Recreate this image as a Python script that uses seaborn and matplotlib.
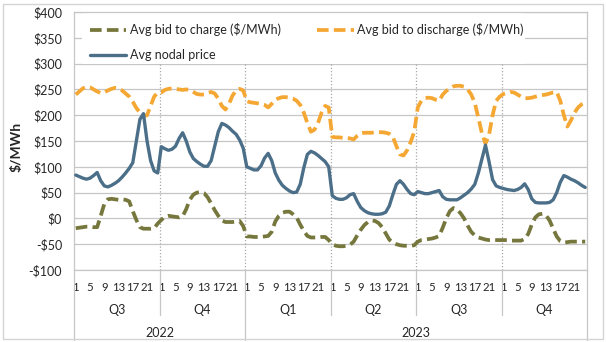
import numpy as np
import pandas as pd
import matplotlib
matplotlib.use("Agg")
import matplotlib.pyplot as plt
import seaborn as sns
from matplotlib.patches import Rectangle

# Category levels along the x axis
years = ["2022", "2022", "2023", "2023", "2023", "2023"]
quarters = ["Q3", "Q4", "Q1", "Q2", "Q3", "Q4"]
hours = list(range(1, 25))
hour_ticks = [1, 5, 9, 13, 17, 21]

# Average bid to charge ($/MWh), 24 hourly values per quarter
bid_charge = [
    -19, -18, -17, -16, -16, -17, -17, 5, 28, 37, 38, 37, 36, 37, 36, 33, 14, -3, -17, -20, -20, -20, -19, -10,
    -3, 3, 5, 4, 3, 2, 4, 18, 36, 46, 50, 51, 49, 41, 29, 16, 5, -4, -7, -7, -7, -6, -5, -15,
    -35, -35, -36, -36, -36, -35, -34, -26, -6, 5, 11, 13, 13, 8, 2, -12, -24, -34, -37, -37, -37, -36, -36, -42,
    -50, -53, -54, -54, -53, -51, -45, -33, -22, -13, -7, -4, -5, -9, -17, -29, -41, -47, -50, -52, -53, -53, -53, -52,
    -45, -42, -41, -40, -39, -37, -34, -18, 0, 14, 20, 17, 10, 0, -14, -26, -33, -37, -39, -41, -42, -42, -42, -42,
    -42, -42, -43, -43, -43, -43, -40, -30, -12, 2, 8, 9, 6, -4, -20, -35, -44, -47, -46, -45, -45, -45, -45, -45,
]

# Average bid to discharge ($/MWh)
bid_discharge = [
    240, 246, 252, 255, 254, 250, 246, 243, 244, 248, 251, 253, 252, 248, 242, 236, 226, 214, 205, 198, 200, 218, 236, 244,
    244, 249, 251, 252, 251, 250, 249, 250, 249, 245, 241, 240, 240, 243, 245, 242, 232, 218, 211, 222, 238, 248, 251, 248,
    227, 225, 224, 223, 222, 220, 215, 222, 230, 233, 235, 235, 234, 232, 228, 220, 205, 185, 168, 172, 185, 205, 218, 215,
    158, 157, 157, 156, 156, 155, 153, 160, 165, 166, 166, 166, 167, 167, 167, 166, 164, 158, 140, 124, 122, 132, 148, 168,
    215, 228, 233, 234, 233, 230, 228, 240, 247, 252, 256, 257, 257, 255, 250, 240, 224, 195, 165, 145, 162, 200, 228, 236,
    241, 243, 245, 244, 240, 236, 233, 233, 234, 236, 238, 239, 240, 242, 244, 245, 228, 200, 178, 190, 205, 215, 221, 224,
]

# Average nodal price ($/MWh)
nodal_price = [
    84, 81, 78, 76, 78, 83, 89, 73, 63, 61, 64, 68, 73, 80, 88, 97, 108, 150, 192, 203, 150, 112, 92, 88,
    139, 135, 132, 134, 140, 155, 166, 150, 129, 116, 110, 105, 101, 101, 112, 140, 168, 184, 181, 176, 169, 163, 152, 136,
    100, 97, 94, 94, 102, 117, 126, 112, 88, 74, 64, 58, 53, 50, 51, 66, 98, 124, 130, 127, 122, 116, 110, 100,
    44, 39, 37, 37, 40, 46, 48, 33, 21, 15, 11, 9, 8, 8, 9, 12, 24, 46, 66, 73, 66, 56, 48, 46,
    52, 50, 48, 48, 50, 52, 54, 42, 37, 36, 36, 36, 40, 45, 50, 57, 66, 88, 115, 142, 110, 75, 63, 60,
    58, 56, 55, 54, 56, 60, 67, 56, 38, 31, 30, 30, 30, 31, 36, 50, 70, 83, 80, 76, 73, 69, 64, 60,
]

series_labels = ["Avg bid to charge ($/MWh)", "Avg bid to discharge ($/MWh)", "Avg nodal price"]

OLIVE = "#76773C"
ORANGE = "#F5A733"
SLATE = "#4C6F89"
GRID = "#C6C6C6"
TEXT = "#262626"

n_h = len(hours)
df = pd.DataFrame({
    "pos": np.arange(len(quarters) * n_h),
    "year": np.repeat(years, n_h),
    "quarter": np.repeat(quarters, n_h),
    "hour": np.tile(hours, len(quarters)),
    "charge": bid_charge,
    "discharge": bid_discharge,
    "nodal": nodal_price,
})

sns.set_theme(style="white")
plt.rcParams["font.family"] = ["Lato", "DejaVu Sans"]
plt.rcParams["text.color"] = TEXT

W, H = 606, 342
fig = plt.figure(figsize=(W / 100, H / 100), dpi=100)
L, R, T, B = 74, 587, 12, 270
ax = fig.add_axes([L / W, (H - B) / H, (R - L) / W, (B - T) / H])

# Series
sns.lineplot(data=df, x="pos", y="charge", ax=ax, color=OLIVE, lw=2.7, label=series_labels[0], zorder=3)
sns.lineplot(data=df, x="pos", y="discharge", ax=ax, color=ORANGE, lw=2.7, label=series_labels[1], zorder=3)
sns.lineplot(data=df, x="pos", y="nodal", ax=ax, color=SLATE, lw=2.4, label=series_labels[2], zorder=4)
l_charge, l_dis, l_nodal = ax.lines[-3:]
for ln in (l_charge, l_dis):
    ln.set_dashes((3.1, 1.4))
    ln.set_solid_capstyle("butt")

ax.set_xlim(-0.5, len(df) - 0.5)
ax.set_ylim(-100, 400)

# Y axis
yt = list(range(-100, 401, 50))
ax.set_yticks(yt)
ax.set_yticklabels([f"${v}" if v >= 0 else f"-${-v}" for v in yt], fontsize=9, color=TEXT)
ax.yaxis.grid(True, color=GRID, lw=0.9)
ax.tick_params(axis="y", length=0, pad=8.5)
ax.set_ylabel("")
ax.set_xlabel("")
for s in ax.spines.values():
    s.set_color(GRID)
    s.set_linewidth(0.9)

# Quarter dividers inside the plot
for qi in range(1, len(quarters)):
    ax.axvline(qi * n_h - 0.5, color="#A8A8A8", lw=0.9, ls=(0, (1, 1.6)), zorder=1)

# Hour ticks
tick_df = df[df["hour"].isin(hour_ticks)]
ax.set_xticks(tick_df["pos"].tolist())
ax.set_xticklabels([str(h) for h in tick_df["hour"]], fontsize=8.2, color=TEXT)
ax.tick_params(axis="x", length=0, pad=8.5)

# Quarter and year labels with separators below the axis
xt = ax.get_xaxis_transform()
axh = B - T
for qi, q in enumerate(quarters):
    ax.text(qi * n_h + n_h / 2 - 0.5, -40 / axh, q, transform=xt, ha="center", va="center",
            fontsize=9, color=TEXT)
year_groups = df.groupby("year")["pos"].agg(["min", "max"])
for yr, (lo, hi) in year_groups.iterrows():
    ax.text((lo + hi) / 2, -63 / axh, yr, transform=xt, ha="center", va="center",
            fontsize=9, color=TEXT)
year_edges = {-0.5, len(df) - 0.5} | {lo - 0.5 for lo in year_groups["min"]}
for qi in range(len(quarters) + 1):
    xb = qi * n_h - 0.5
    depth = 70 if xb in year_edges else 45
    ax.plot([xb, xb], [0, -depth / axh], transform=xt, clip_on=False, color=GRID, lw=0.9)

# Legend on a white panel
ax.add_patch(Rectangle(((82 - L) / (R - L), (B - 64) / axh), 443 / (R - L), 51 / axh,
                       transform=ax.transAxes, facecolor="white", edgecolor="none", zorder=2))
leg = ax.legend(handles=[l_charge, l_nodal, l_dis], labels=[series_labels[0], series_labels[2], series_labels[1]],
                ncol=2, loc="upper left", bbox_to_anchor=((90 - L) / (R - L), (B - 23) / axh),
                frameon=False, fontsize=9, handlelength=2.9, handletextpad=0.3,
                columnspacing=2.9, labelspacing=1.05, borderpad=0, borderaxespad=0)
for t in leg.get_texts():
    t.set_color(TEXT)

# Axis title and chart border
fig.text(17 / W, 1 - 147 / H, "$/MWh", rotation=90, ha="center", va="center",
         fontsize=10, fontweight="bold", color=TEXT)
fig.patches.append(Rectangle((3 / W, 3 / H), 600 / W, 335 / H, transform=fig.transFigure,
                             fill=False, edgecolor="#D4D4D4", lw=1))

fig.savefig("out.png", dpi=100)
